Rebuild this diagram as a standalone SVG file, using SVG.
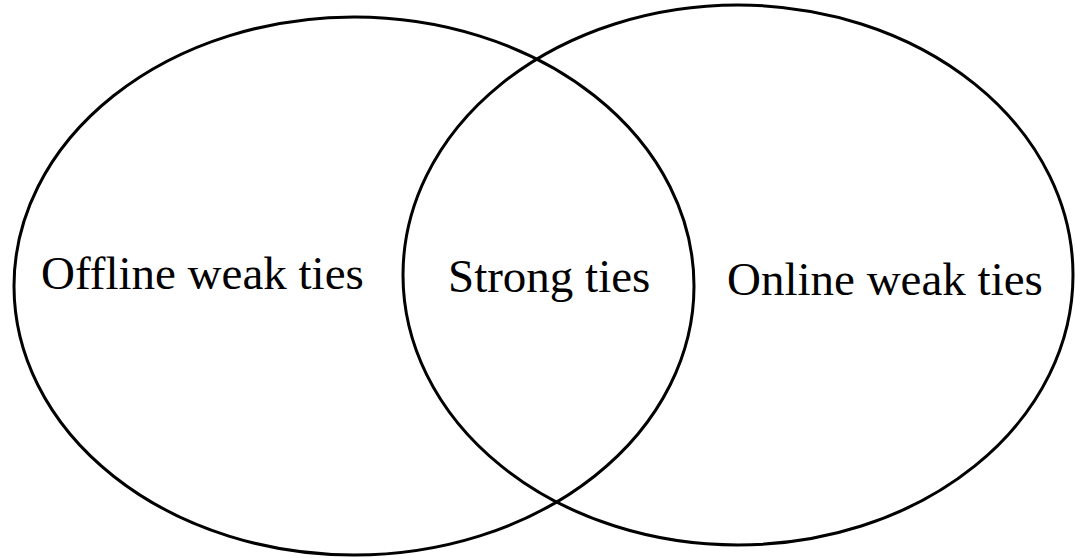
<svg xmlns="http://www.w3.org/2000/svg" width="1075" height="558" viewBox="0 0 1075 558">
<style>
.set{fill:none;stroke:#000;stroke-width:3}
.lbl{font-family:"Liberation Serif","Times New Roman",serif;font-size:47px;fill:#000}
</style>
<rect width="1075" height="558" fill="#fff"/>
<g id="offline">
<ellipse class="set" cx="354" cy="286" rx="340" ry="269"/>
<text class="lbl" x="41" y="289">Offline weak ties</text>
</g>
<g id="online">
<ellipse class="set" cx="738" cy="275" rx="335" ry="270"/>
<text class="lbl" x="727" y="295">Online weak ties</text>
</g>
<g id="strong">
<text class="lbl" x="448" y="292">Strong ties</text>
</g>
</svg>
